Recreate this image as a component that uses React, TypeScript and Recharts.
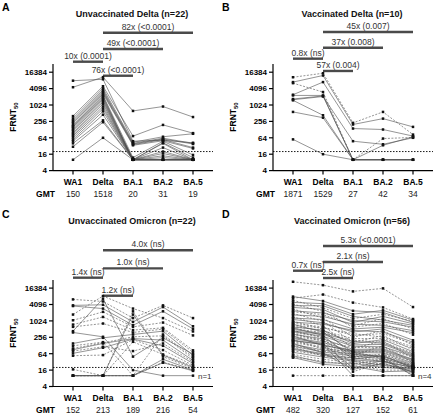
import React from "react";
import { LineChart, Line, XAxis, YAxis, ReferenceLine, ReferenceDot } from "recharts";

const FONT = '"Liberation Sans", Arial, Helvetica, sans-serif';

const categories = ["WA1", "Delta", "BA.1", "BA.2", "BA.5"];
const yTicks = [4, 16, 64, 256, 1024, 4096, 16384];
const LOD = 20;

// A: unvaccinated Delta (n=22)
const aWA1 = [8000, 4600, 400, 330, 280, 250, 220, 190, 170, 160, 140, 125, 110, 95, 85, 75, 65, 55, 48, 40, 30, 10];
const aDelta = [9000, 10800, 5000, 4200, 3600, 3200, 2900, 2600, 2300, 2100, 1900, 1700, 1500, 1300, 1100, 900, 750, 600, 450, 280, 240, 64];
const aBA1 = [48, 620, 74, 44, 40, 38, 36, 34, 12, 10, 10, 10, 10, 10, 10, 10, 10, 10, 10, 10, 10, 10];
const aBA2 = [52, 900, 190, 70, 62, 58, 55, 50, 48, 42, 40, 28, 20, 17, 14, 12, 10, 10, 10, 10, 10, 10];
const aBA5 = [42, 370, 95, 90, 40, 38, 28, 26, 15, 12, 10, 10, 10, 10, 10, 10, 10, 10, 10, 10, 10, 10];
const aDashed: number[] = [];
const aGMT = [150, 1518, 20, 31, 19];

// B: vaccinated Delta (n=10)
const bWA1 = [10700, 6500, 7100, 2440, 2300, 1700, 1600, 1520, 570, 56];
const bDelta = [15000, 3060, 12400, 7100, 2300, 2200, 2100, 430, 350, 16];
const bBA1 = [226, 10, 197, 140, 10, 10, 48, 10, 10, 10];
const bBA2 = [570, 60, 324, 129, 10, 34, 37, 10, 10, 10];
const bBA5 = [84, 66, 161, 74, 10, 70, 64, 10, 10, 10];
const bDashed = [1, 1, 0, 0, 0, 0, 0, 0, 0, 0];
const bGMT = [1871, 1529, 27, 42, 34];

// C: unvaccinated Omicron (n=22)
const cWA1 = [6300, 3800, 3600, 1750, 1080, 750, 620, 430, 385, 152, 125, 100, 90, 80, 66, 54, 17, 10, 10, 10, 10, 10];
const cDelta = [5300, 4000, 2900, 8400, 2200, 1430, 820, 6700, 267, 245, 170, 160, 152, 115, 106, 57, 10, 10, 10, 10, 10, 10];
const cBA1 = [1300, 940, 710, 2900, 620, 470, 385, 50, 16, 325, 10, 267, 230, 80, 220, 210, 175, 1750, 2300, 10, 10, 10];
const cBA2 = [3800, 3300, 2300, 1300, 890, 570, 510, 245, 10, 430, 325, 290, 202, 152, 125, 87, 60, 57, 50, 40, 31, 30];
const cBA5 = [1300, 650, 520, 420, 300, 85, 72, 62, 10, 55, 48, 42, 36, 32, 28, 24, 22, 20, 18, 16, 16, 15];
const cDashed = [1, 0, 0, 1, 1, 1, 1, 0, 0, 0, 1, 1, 0, 1, 0, 1, 1, 0, 1, 0, 1, 0];
const cGMT = [152, 213, 189, 216, 54];

// D: vaccinated Omicron (n=56)
const dWA1 = [28000, 8000, 7000, 5800, 4900, 4200, 3700, 3200, 2800, 2400, 2200, 1900, 1700, 1450, 1300, 1150, 1000, 920, 840, 770, 720, 660, 610, 570, 540, 500, 460, 435, 410, 385, 360, 330, 310, 290, 270, 250, 230, 210, 190, 180, 165, 155, 140, 128, 120, 115, 100, 92, 82, 72, 60, 54, 48, 46, 200, 10];
const dDelta = [21000, 5500, 9500, 3100, 4400, 2300, 3700, 2700, 1300, 2000, 1750, 1000, 1500, 680, 1150, 880, 510, 780, 610, 400, 560, 440, 470, 300, 380, 350, 240, 330, 280, 260, 180, 225, 210, 125, 195, 165, 150, 95, 140, 115, 105, 68, 88, 80, 74, 52, 64, 60, 56, 48, 40, 30, 34, 26, 140, 10];
const dBA1 = [12400, 2400, 4800, 1250, 1800, 600, 1500, 900, 260, 1050, 680, 165, 780, 100, 520, 400, 56, 460, 300, 72, 350, 230, 150, 40, 200, 180, 26, 135, 120, 50, 110, 92, 14, 85, 60, 78, 19, 80, 72, 48, 68, 17, 62, 58, 52, 46, 44, 38, 36, 34, 30, 28, 24, 22, 10, 10];
const dBA2 = [16000, 2100, 3200, 1800, 2500, 820, 1100, 1500, 450, 950, 1250, 300, 700, 190, 600, 520, 125, 400, 350, 46, 260, 230, 210, 55, 170, 155, 40, 140, 115, 62, 105, 96, 30, 88, 48, 80, 36, 74, 68, 58, 52, 28, 50, 44, 42, 38, 34, 32, 26, 24, 22, 20, 16, 14, 10, 10];
const dBA5 = [3300, 900, 1200, 1000, 1100, 320, 700, 800, 130, 600, 520, 88, 450, 44, 380, 200, 30, 170, 150, 10, 115, 100, 76, 19, 68, 62, 10, 56, 52, 24, 48, 40, 12, 38, 21, 35, 13, 32, 29, 27, 26, 14, 23, 23, 22, 21, 20, 20, 19, 18, 18, 17, 16, 15, 10, 10];
const dDashed = [1, 0, 1, 1, 0, 1, 0, 0, 1, 0, 1, 1, 0, 1, 0, 0, 1, 0, 1, 0, 1, 1, 0, 0, 1, 0, 1, 0, 0, 1, 1, 0, 1, 0, 1, 0, 0, 1, 0, 1, 1, 0, 0, 1, 0, 1, 0, 0, 1, 0, 1, 0, 1, 0, 0, 1];
const dGMT = [482, 320, 127, 152, 61];

// significance brackets, level = log2 of the bracket height
type Bracket = { from: string; to: string; level: number; text: string };

const aBrackets: Bracket[] = [
  { from: "Delta", to: "BA.5", level: 18.82, text: "82x (<0.0001)" },
  { from: "Delta", to: "BA.2", level: 16.83, text: "49x (<0.0001)" },
  { from: "WA1", to: "Delta", level: 15.28, text: "10x (0.0001)" },
  { from: "Delta", to: "BA.1", level: 13.57, text: "76x (<0.0001)" },
];
const bBrackets: Bracket[] = [
  { from: "Delta", to: "BA.5", level: 18.9, text: "45x (0.007)" },
  { from: "Delta", to: "BA.2", level: 16.99, text: "37x (0.008)" },
  { from: "WA1", to: "Delta", level: 15.65, text: "0.8x (ns)" },
  { from: "Delta", to: "BA.1", level: 14.15, text: "57x (0.004)" },
];
const cBrackets: Bracket[] = [
  { from: "Delta", to: "BA.5", level: 18.61, text: "4.0x (ns)" },
  { from: "Delta", to: "BA.2", level: 16.41, text: "1.0x (ns)" },
  { from: "WA1", to: "Delta", level: 15.27, text: "1.4x (ns)" },
  { from: "Delta", to: "BA.1", level: 13.07, text: "1.2x (ns)" },
];
const dBrackets: Bracket[] = [
  { from: "Delta", to: "BA.5", level: 19.13, text: "5.3x (<0.0001)" },
  { from: "Delta", to: "BA.2", level: 17.18, text: "2.1x (ns)" },
  { from: "WA1", to: "Delta", level: 16.12, text: "0.7x (ns)" },
  { from: "Delta", to: "BA.1", level: 15.23, text: "2.5x (ns)" },
];

function buildRows(cols: number[][]) {
  return categories.map((cat, ci) => {
    const row: Record<string, string | number> = { cat };
    cols[ci].forEach((v, i) => {
      row["s" + i] = v;
    });
    return row;
  });
}

function squareDot(props: any) {
  const { cx, cy, index } = props;
  if (cx == null || cy == null) return <g key={index} />;
  return <rect key={index} x={cx - 1.25} y={cy - 1.25} width={2.5} height={2.5} fill="#111" />;
}

function makeTick(gmt: number[]) {
  return function Tick(props: any) {
    const { x, y, payload, index } = props;
    return (
      <g>
        <text x={x} y={y + 8} textAnchor="middle" fontSize={8.5} fontWeight="bold" fill="#000">
          {payload.value}
        </text>
        <text x={x} y={y + 20} textAnchor="middle" fontSize={8.5} fill="#222">
          {gmt[index]}
        </text>
        {index === 0 && (
          <text x={x - 18} y={y + 20} textAnchor="end" fontSize={8.5} fontWeight="bold" fill="#000">
            GMT
          </text>
        )}
      </g>
    );
  };
}

type PanelProps = {
  letter: string;
  title: string;
  left: number;
  top: number;
  cols: number[][];
  gmt: number[];
  dashed: number[];
  brackets: Bracket[];
  plotTop: number;
  floorNote?: string;
};

const PLOT_H = 106.6;

function Panel(p: PanelProps) {
  const rows = buildRows(p.cols);
  const n = p.cols[0].length;
  const xAxisHeight = 207 - p.plotTop - PLOT_H;
  return (
    <div style={{ position: "absolute", left: p.left, top: p.top, width: 220, height: 207 }}>
      <div style={{ position: "absolute", left: 2, top: 1, fontSize: 10.5, fontWeight: "bold", lineHeight: "12px" }}>
        {p.letter}
      </div>
      <div
        style={{
          position: "absolute",
          left: 32,
          top: 8,
          width: 200,
          textAlign: "center",
          fontSize: 9,
          fontWeight: "bold",
          lineHeight: "12px",
          color: "#111",
        }}
      >
        {p.title}
      </div>
      <div
        style={{
          position: "absolute",
          left: -8,
          top: p.plotTop + PLOT_H / 2 - 6,
          width: 42,
          height: 12,
          lineHeight: "12px",
          textAlign: "center",
          transform: "rotate(-90deg)",
          fontSize: 8.5,
          fontWeight: "bold",
          color: "#000",
        }}
      >
        FRNT<sub style={{ fontSize: 6, verticalAlign: "-2px", lineHeight: 0 }}>50</sub>
      </div>
      <LineChart
        width={220}
        height={207}
        data={rows}
        margin={{ top: p.plotTop, right: 7, bottom: 0, left: 0 }}
        style={{ position: "absolute", left: 0, top: 0 }}
      >
        <XAxis
          dataKey="cat"
          type="category"
          padding={{ left: 20, right: 20 }}
          height={xAxisHeight}
          tickSize={4}
          interval={0}
          axisLine={{ stroke: "#000", strokeWidth: 1.2 }}
          tickLine={{ stroke: "#000", strokeWidth: 1.2 }}
          tick={makeTick(p.gmt)}
        />
        <YAxis
          scale="log"
          domain={[4, 32768]}
          allowDataOverflow
          ticks={yTicks}
          interval={0}
          width={53}
          tickSize={4}
          axisLine={{ stroke: "#000", strokeWidth: 1.2 }}
          tickLine={{ stroke: "#000", strokeWidth: 1.2 }}
          tick={{ fontSize: 8, fontWeight: "bold", fill: "#000" }}
        />
        <ReferenceLine y={LOD} stroke="#000" strokeWidth={0.9} strokeDasharray="1.5 1.5" />
        {Array.from({ length: n }, (_, i) => (
          <Line
            key={i}
            dataKey={"s" + i}
            type="linear"
            stroke={p.dashed[i] ? "#666" : "#4d4d4d"}
            strokeWidth={p.dashed[i] ? 0.7 : 0.6}
            strokeDasharray={p.dashed[i] ? "2 1.5" : undefined}
            dot={squareDot}
            activeDot={false}
            isAnimationActive={false}
          />
        ))}
        {p.brackets.map((b, i) => (
          <ReferenceLine
            key={"br" + i}
            segment={[
              { x: b.from, y: 2 ** b.level },
              { x: b.to, y: 2 ** b.level },
            ]}
            stroke="#4a4a4a"
            strokeWidth={2.4}
            ifOverflow="visible"
            label={{ value: b.text, position: "top", offset: 3, fontSize: 8.5, fill: "#333" }}
          />
        ))}
        {p.floorNote && (
          <ReferenceDot
            x="BA.5"
            y={10}
            r={1}
            fill="none"
            stroke="none"
            ifOverflow="visible"
            label={{ value: p.floorNote, position: "right", offset: 4, fontSize: 8, fill: "#333" }}
          />
        )}
      </LineChart>
    </div>
  );
}

export default function App() {
  return (
    <div
      style={{
        position: "absolute",
        left: 0,
        top: 0,
        width: 440,
        height: 414,
        background: "#fff",
        fontFamily: FONT,
        overflow: "hidden",
      }}
    >
      <Panel
        letter="A"
        title="Unvaccinated Delta (n=22)"
        left={0}
        top={0}
        cols={[aWA1, aDelta, aBA1, aBA2, aBA5]}
        gmt={aGMT}
        dashed={aDashed}
        brackets={aBrackets}
        plotTop={64}
      />
      <Panel
        letter="B"
        title="Vaccinated Delta (n=10)"
        left={220}
        top={0}
        cols={[bWA1, bDelta, bBA1, bBA2, bBA5]}
        gmt={bGMT}
        dashed={bDashed}
        brackets={bBrackets}
        plotTop={64}
      />
      <Panel
        letter="C"
        title="Unvaccinated Omicron (n=22)"
        left={0}
        top={207}
        cols={[cWA1, cDelta, cBA1, cBA2, cBA5]}
        gmt={cGMT}
        dashed={cDashed}
        brackets={cBrackets}
        plotTop={72.9}
        floorNote="n=1"
      />
      <Panel
        letter="D"
        title="Vaccinated Omicron (n=56)"
        left={220}
        top={207}
        cols={[dWA1, dDelta, dBA1, dBA2, dBA5]}
        gmt={dGMT}
        dashed={dDashed}
        brackets={dBrackets}
        plotTop={72.9}
        floorNote="n=4"
      />
    </div>
  );
}
